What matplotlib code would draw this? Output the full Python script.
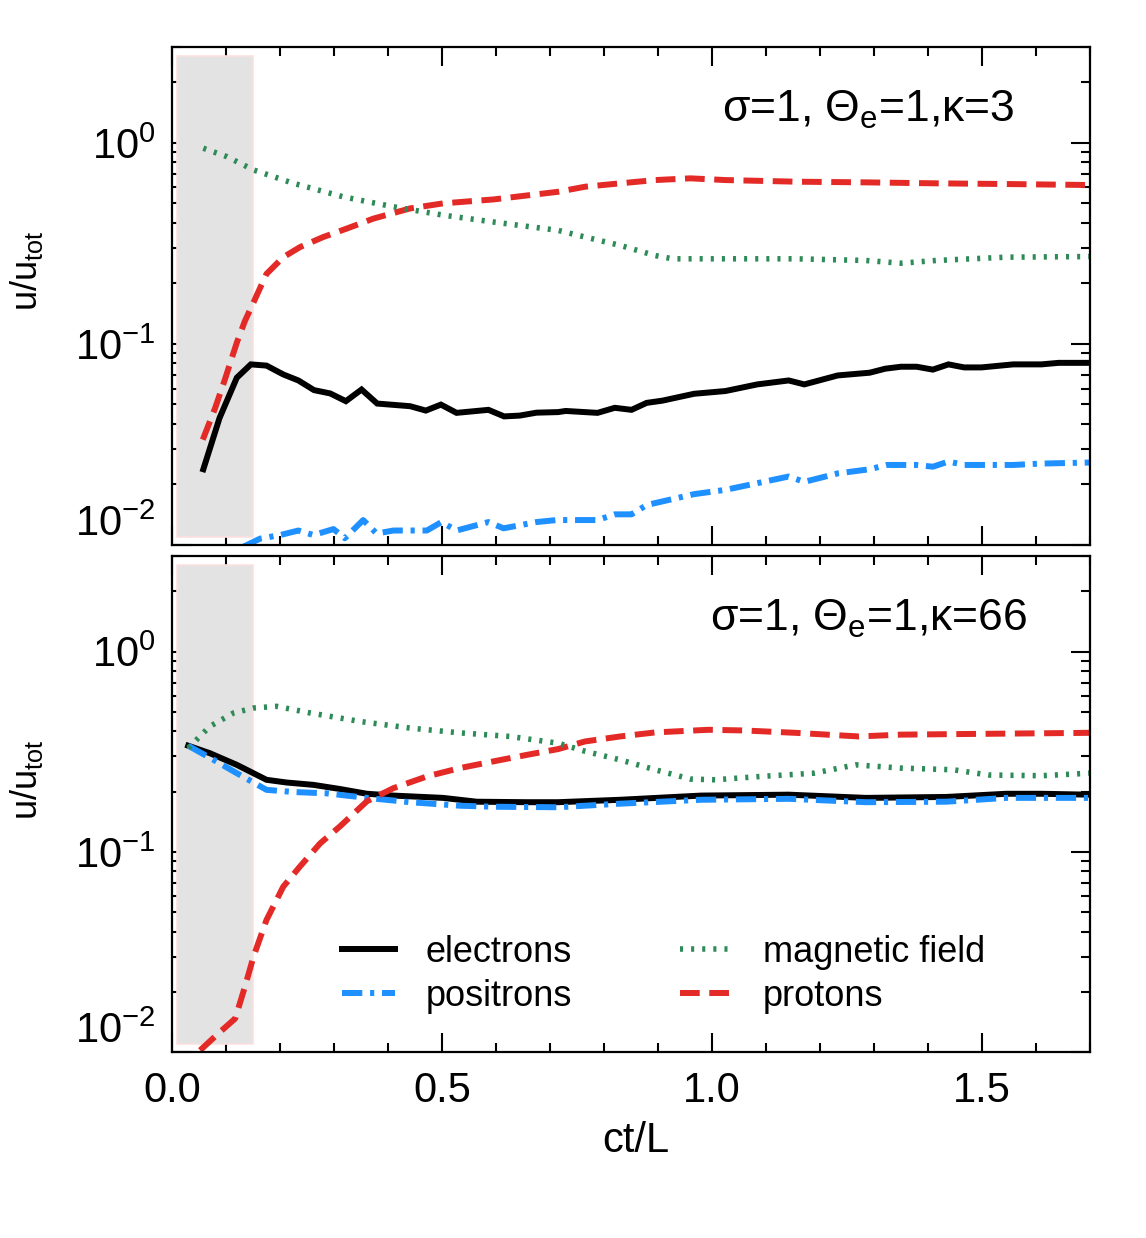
import numpy as np
import matplotlib
matplotlib.use('Agg')
import matplotlib.pyplot as plt
from matplotlib.ticker import MultipleLocator, LogLocator, NullFormatter

plt.rcParams['font.family'] = ['Liberation Sans', 'DejaVu Sans']
plt.rcParams['mathtext.fontset'] = 'custom'
plt.rcParams['mathtext.rm'] = 'Liberation Sans'
plt.rcParams['mathtext.it'] = 'Liberation Sans:italic'
plt.rcParams['mathtext.default'] = 'regular'

# --- top panel: sigma=1, Theta_e=1, kappa=3 ---
t_top_ele = [0.058, 0.088, 0.120, 0.146, 0.175, 0.206, 0.234, 0.263, 0.293, 0.322,
             0.351, 0.380, 0.441, 0.470, 0.498, 0.527, 0.586, 0.615, 0.644, 0.675,
             0.715, 0.729, 0.788, 0.820, 0.851, 0.879, 0.908, 0.967, 1.025, 1.084,
             1.142, 1.171, 1.233, 1.292, 1.321, 1.350, 1.379, 1.409, 1.438, 1.467,
             1.499, 1.558, 1.610, 1.642, 1.699]
u_top_ele = [0.0238, 0.0428, 0.0679, 0.0791, 0.078, 0.0705, 0.0658, 0.0589, 0.0567, 0.0519,
             0.0593, 0.0505, 0.049, 0.0466, 0.0499, 0.0454, 0.047, 0.0436, 0.044, 0.0455,
             0.0458, 0.0464, 0.0454, 0.0481, 0.047, 0.0509, 0.0522, 0.0565, 0.0583, 0.0629,
             0.0658, 0.0629, 0.0697, 0.0719, 0.0753, 0.077, 0.077, 0.0745, 0.0791, 0.0764,
             0.0764, 0.0791, 0.0791, 0.0805, 0.0805]

t_top_pos = [0.132, 0.163, 0.200, 0.234, 0.262, 0.299, 0.320, 0.354, 0.379, 0.410,
             0.472, 0.499, 0.527, 0.586, 0.614, 0.675, 0.712, 0.788, 0.820, 0.851,
             0.879, 0.967, 1.025, 1.084, 1.142, 1.171, 1.233, 1.292, 1.324, 1.379,
             1.409, 1.438, 1.467, 1.558, 1.610, 1.699]
u_top_pos = [0.0098, 0.01075, 0.0112, 0.0118, 0.0112, 0.0120, 0.0108, 0.0133, 0.0114, 0.0118,
             0.0118, 0.0130, 0.0118, 0.0130, 0.0121, 0.0130, 0.0133, 0.0133, 0.0142, 0.0142,
             0.0158, 0.0179, 0.0188, 0.0203, 0.0219, 0.0206, 0.0227, 0.0238, 0.0250, 0.0250,
             0.0245, 0.0260, 0.0250, 0.0250, 0.0254, 0.0257]

t_top_pro = [0.057, 0.080, 0.098, 0.120, 0.135, 0.151, 0.175, 0.206, 0.237, 0.280,
             0.324, 0.373, 0.441, 0.502, 0.595, 0.715, 0.765, 0.830, 0.895, 0.960,
             1.025, 1.155, 1.285, 1.415, 1.545, 1.699]
u_top_pro = [0.0334, 0.0481, 0.0666, 0.1015, 0.130, 0.161, 0.223, 0.270, 0.303, 0.340,
             0.375, 0.420, 0.472, 0.500, 0.523, 0.571, 0.605, 0.629, 0.653, 0.666,
             0.653, 0.641, 0.636, 0.629, 0.624, 0.617]

t_top_mag = [0.058, 0.101, 0.151, 0.225, 0.317, 0.410, 0.502, 0.595, 0.715, 0.765,
             0.830, 0.895, 0.927, 1.025, 1.155, 1.285, 1.350, 1.415, 1.545, 1.699]
u_top_mag = [0.94, 0.855, 0.733, 0.629, 0.539, 0.481, 0.437, 0.404, 0.367, 0.340,
             0.309, 0.275, 0.265, 0.265, 0.265, 0.260, 0.252, 0.260, 0.270, 0.272]

# --- bottom panel: sigma=1, Theta_e=1, kappa=66 ---
t_bot_ele = [0.030, 0.070, 0.120, 0.175, 0.212, 0.262, 0.311, 0.361, 0.410, 0.502,
             0.564, 0.657, 0.715, 0.830, 0.980, 1.142, 1.285, 1.434, 1.545, 1.610, 1.699]
u_bot_ele = [0.339, 0.311, 0.272, 0.229, 0.222, 0.216, 0.206, 0.195, 0.191, 0.186,
             0.178, 0.177, 0.177, 0.182, 0.191, 0.193, 0.186, 0.188, 0.195, 0.195, 0.193]

t_bot_pos = [0.030, 0.077, 0.120, 0.175, 0.225, 0.286, 0.361, 0.441, 0.533, 0.595,
             0.715, 0.830, 0.980, 1.142, 1.285, 1.434, 1.545, 1.699]
u_bot_pos = [0.339, 0.288, 0.247, 0.204, 0.199, 0.196, 0.186, 0.177, 0.170, 0.168,
             0.167, 0.174, 0.182, 0.184, 0.177, 0.178, 0.186, 0.186]

t_bot_pro = [0.052, 0.086, 0.117, 0.135, 0.151, 0.175, 0.206, 0.237, 0.274, 0.311,
             0.361, 0.410, 0.472, 0.533, 0.595, 0.657, 0.715, 0.765, 0.830, 0.895,
             0.993, 1.058, 1.155, 1.272, 1.350, 1.480, 1.699]
u_bot_pro = [0.0102, 0.0124, 0.0147, 0.0212, 0.030, 0.0457, 0.067, 0.0845, 0.110, 0.134,
             0.179, 0.208, 0.238, 0.262, 0.283, 0.305, 0.326, 0.356, 0.377, 0.395,
             0.407, 0.404, 0.393, 0.377, 0.385, 0.388, 0.393]

t_bot_mag = [0.030, 0.070, 0.114, 0.151, 0.194, 0.256, 0.348, 0.441, 0.533, 0.626,
             0.715, 0.765, 0.830, 0.895, 0.960, 1.006, 1.090, 1.188, 1.266, 1.350,
             1.447, 1.512, 1.610, 1.699]
u_bot_mag = [0.330, 0.423, 0.494, 0.523, 0.533, 0.494, 0.448, 0.415, 0.393, 0.377,
             0.349, 0.318, 0.288, 0.257, 0.231, 0.229, 0.238, 0.247, 0.272, 0.262,
             0.257, 0.242, 0.240, 0.247]

shade_t = [0.01, 0.15]
shade_u = [0.011, 2.7]

yticks = [0.01, 0.1, 1.0]
labels = ['electrons', 'positrons', 'magnetic field', 'protons']
titles = [r'σ=1, Θ$_e$=1,κ=3', r'σ=1, Θ$_e$=1,κ=66']

RED = '#e32a26'
BLUE = '#1e90ff'
GREEN = '#2e8b57'

fig = plt.figure(figsize=(11.46, 12.38), dpi=100)
ax1 = fig.add_axes([0.1501, 0.5598, 0.8010, 0.4023])
ax2 = fig.add_axes([0.1501, 0.1502, 0.8010, 0.4006])

panels = [
    (ax1, t_top_ele, u_top_ele, t_top_pos, u_top_pos, t_top_pro, u_top_pro, t_top_mag, u_top_mag),
    (ax2, t_bot_ele, u_bot_ele, t_bot_pos, u_bot_pos, t_bot_pro, u_bot_pro, t_bot_mag, u_bot_mag),
]

for i, (ax, te, ue, tp, up, tr, ur, tm, um) in enumerate(panels):
    # shaded box sits on top of the tick marks, like in the original
    ax.set_axisbelow(True)
    ax.fill_between(shade_t, shade_u[0], shade_u[1], facecolor='#e3e3e3',
                    edgecolor='#fbe0e0', linewidth=1.2, zorder=1)
    le, = ax.plot(te, ue, color='black', lw=4.3, solid_joinstyle='miter', label=labels[0])
    lp, = ax.plot(tp, up, color=BLUE, lw=4.3, dashes=(3.4, 1.3, 0.7, 1.3),
                  dash_capstyle='butt', label=labels[1])
    lr, = ax.plot(tr, ur, color=RED, lw=4.3, dashes=(3.3, 1.6),
                  dash_capstyle='butt', label=labels[3])
    lm, = ax.plot(tm, um, color=GREEN, lw=4.0, dashes=(0.55, 1.45),
                  dash_capstyle='butt', label=labels[2])

    ax.set_yscale('log')
    ax.set_xlim(0, 1.7)
    ax.set_ylim(0.01, 3.0)
    ax.xaxis.set_major_locator(MultipleLocator(0.5))
    ax.xaxis.set_minor_locator(MultipleLocator(0.1))
    ax.set_yticks(yticks)
    ax.yaxis.set_minor_locator(LogLocator(base=10, subs=np.arange(2, 10), numticks=20))
    ax.yaxis.set_minor_formatter(NullFormatter())
    ax.tick_params(which='both', direction='in', top=True, right=True, width=1.5,
                   labelsize=30)
    ax.tick_params(which='major', length=13.5)
    ax.tick_params(which='minor', length=6.5)
    ax.tick_params(axis='x', which='major', pad=14)
    ax.tick_params(axis='y', which='major', pad=12)
    for s in ax.spines.values():
        s.set_linewidth(1.6)
    # lowest label sits just above the bottom edge
    ax.yaxis.get_major_ticks()[0].label1.set_verticalalignment('bottom')

    ax.set_ylabel(r'u/u$_{tot}$', fontsize=26)
    ax.yaxis.set_label_coords(-0.138, 0.55)

    ax.text(0.918 if i == 0 else 0.932, 0.85, titles[i], transform=ax.transAxes,
            ha='right', va='baseline', fontsize=32)

    if i == 1:
        ax.legend([le, lp, lm, lr], [labels[0], labels[1], labels[2], labels[3]],
                  ncol=2, frameon=False, fontsize=26, loc='lower left',
                  bbox_to_anchor=(0.15, 0.012), handlelength=1.45, handletextpad=0.85,
                  columnspacing=3.0, labelspacing=0.25)

ax1.tick_params(axis='x', labelbottom=False)
ax2.set_xlabel('ct/L', fontsize=30)
ax2.xaxis.set_label_coords(0.505, -0.14)

fig.savefig('out.png', dpi=100)
